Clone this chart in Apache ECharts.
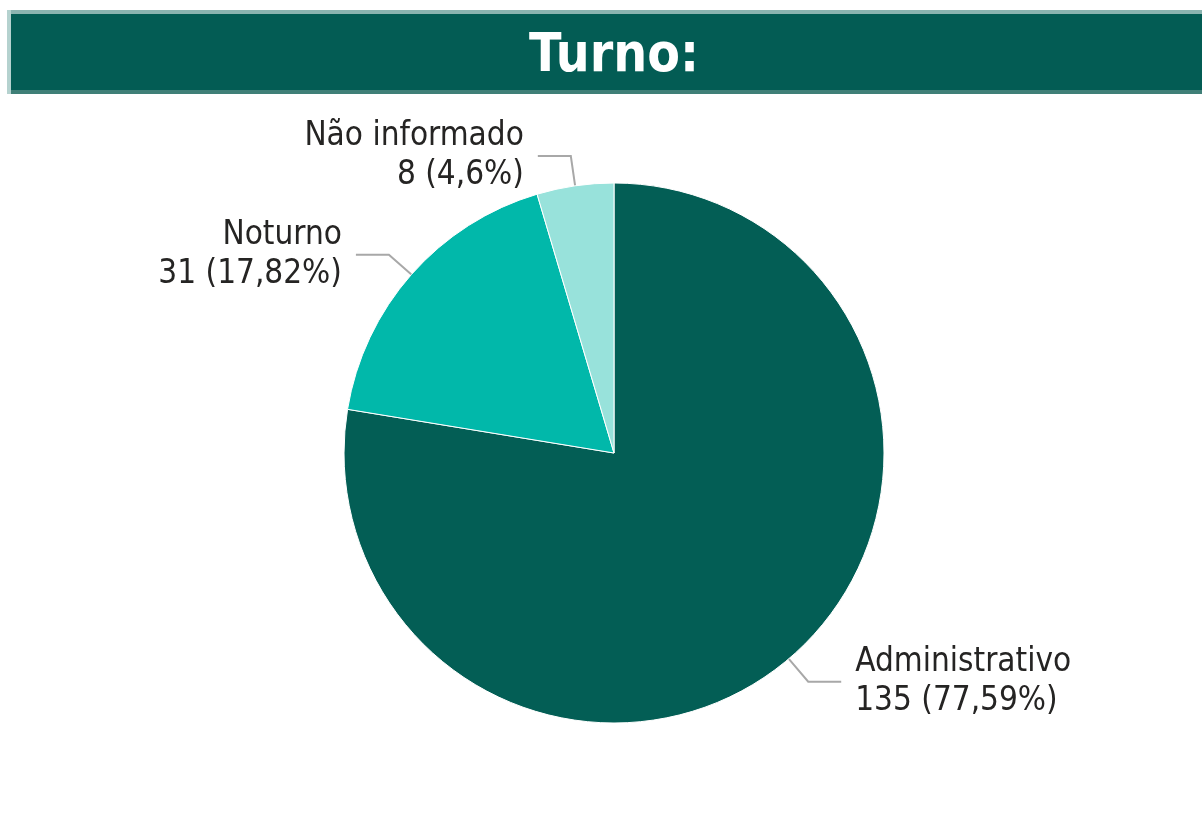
<!DOCTYPE html>
<html>
<head>
<meta charset="utf-8">
<script src="https://cdn.jsdelivr.net/npm/echarts@6/dist/echarts.min.js"></script>
<style>
  html, body { margin: 0; padding: 0; background: #fff; }
  #main { width: 1202px; height: 814px; }
</style>
</head>
<body>
<div id="main"></div>
<script>
var titleText = 'Turno:';
var categories = ['Administrativo', 'Noturno', 'Não informado'];
var values = [135, 31, 8];
var colors = ['#035E55', '#01B8AA', '#98E2DB'];

var myChart = echarts.init(document.getElementById('main'));
var labelFont = '"DejaVu Sans Condensed", "DejaVu Sans", sans-serif';
var total = values.reduce(function (a, b) { return a + b; }, 0);

var data = categories.map(function (name, i) {
    return { name: name, value: values[i], itemStyle: { color: colors[i] } };
});

var option = {
    animation: false,
    graphic: [
        // faixa do título
        { type: 'rect', shape: { x: 7, y: 10, width: 1195, height: 84 }, style: { fill: '#3F7F77' } },
        { type: 'rect', shape: { x: 7, y: 10, width: 1195, height: 4 }, style: { fill: '#8BB4B0' } },
        { type: 'rect', shape: { x: 7, y: 10, width: 4, height: 84 }, style: { fill: '#B5D2CF' } },
        { type: 'rect', shape: { x: 11, y: 14, width: 1191, height: 76 }, style: { fill: '#035C54' } },
        {
            type: 'text', x: 614, y: 57,
            style: {
                text: titleText, fill: '#fff', align: 'center', verticalAlign: 'middle',
                font: 'bold 53px "DejaVu Sans Condensed", "DejaVu Sans", sans-serif'
            }
        }
    ],
    series: [
        {
            type: 'pie',
            center: [614, 453],
            radius: 270,
            startAngle: 90,
            clockwise: true,
            avoidLabelOverlap: false,
            itemStyle: { borderColor: '#fff', borderWidth: 1 },
            label: {
                show: true,
                position: 'outside',
                color: '#252423',
                fontFamily: labelFont,
                fontSize: 33,
                lineHeight: 39,
                distanceToLabelLine: 14,
                formatter: function (p) {
                    var pct = Math.round(p.value / total * 10000) / 100;
                    return p.name + '\n' + p.value + ' (' + String(pct).replace('.', ',') + '%)';
                }
            },
            labelLine: {
                show: true,
                length: 30,
                length2: 33,
                lineStyle: { color: '#A8A8A8', width: 2 }
            },
            emphasis: { disabled: true },
            data: data
        }
    ]
};
myChart.setOption(option);
</script>
</body>
</html>
